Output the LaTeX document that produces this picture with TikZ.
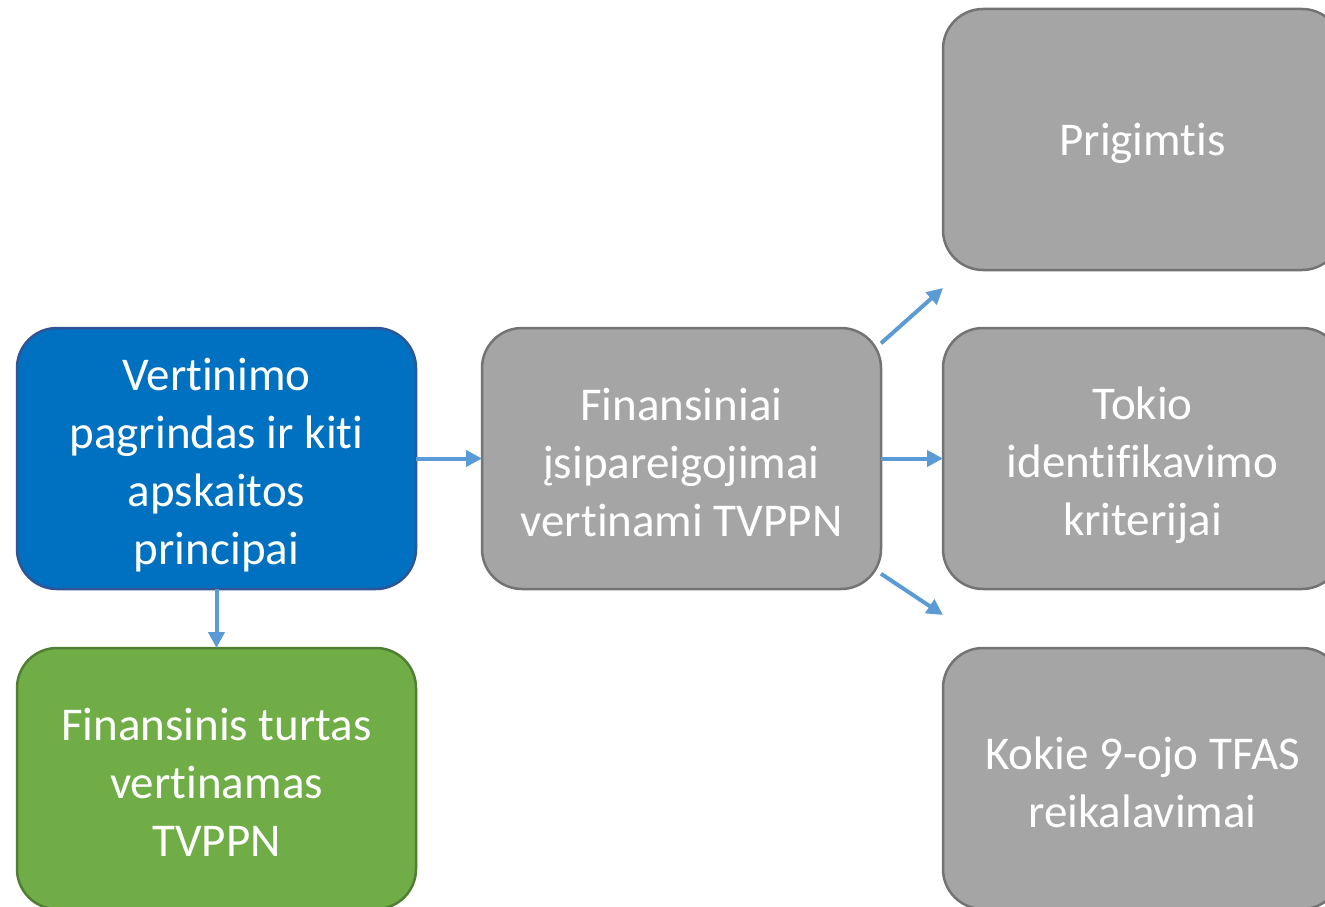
\documentclass[tikz,border=0pt]{standalone}
\usepackage{fontspec}
\setmainfont{Carlito}[Ligatures={NoCommon,NoContextual,NoRare},RawFeature={-liga;-clig;-dlig}]
\usetikzlibrary{arrows.meta,positioning}
\definecolor{greyfill}{HTML}{A5A5A5}
\definecolor{greyline}{HTML}{737373}
\definecolor{bluefill}{HTML}{0070C0}
\definecolor{blueline}{HTML}{2F5597}
\definecolor{greenfill}{HTML}{70AD47}
\definecolor{greenline}{HTML}{507E32}
\definecolor{arrowblue}{HTML}{5B9BD5}
\newcommand\cardlines[1]{\rule{0pt}{46pt}#1\rule[-6pt]{0pt}{6pt}}

\begin{document}
\begin{tikzpicture}[
  x=1pt,y=-1pt,
  >={Triangle[length=16pt,width=16pt]},
  font=\fontsize{47}{58}\selectfont,
  node distance=59pt and 66pt,
  card/.style={rectangle,rounded corners=40pt,line width=2.5pt,
    minimum width=399pt,minimum height=261pt,inner sep=0pt,outer sep=0pt,
    align=center,text=white},
  greycard/.style={card,draw=greyline,fill=greyfill},
  bluecard/.style={card,draw=blueline,fill=bluefill},
  greencard/.style={card,draw=greenline,fill=greenfill},
  line/.style={->,line width=4pt,draw=arrowblue}
]
  \useasboundingbox (0,0) rectangle (1325,907);
  \node[bluecard] (basis) at (216.5,458.5) {\cardlines{Vertinimo\\pagrindas ir kiti\\apskaitos\\principai}};
  \node[greencard,below=of basis] (assets) {\cardlines{Finansinis turtas\\vertinamas\\TVPPN}};
  \node[greycard,right=of basis] (liab) {\cardlines{Finansiniai\\įsipareigojimai\\vertinami TVPPN}};
  \node[greycard,right=62pt of liab] (criteria) {\cardlines{Tokio\\identifikavimo\\kriterijai}};
  \node[greycard,above=58pt of criteria,text height=44pt,text depth=12pt] (nature) {Prigimtis};
  \node[greycard,below=of criteria] (ifrs) {\cardlines{Kokie 9-ojo TFAS\\reikalavimai}};
  \coordinate (upend) at (943,288);
  \coordinate (downend) at (943,615);

  \draw[line] (basis)--(liab);
  \draw[line] (basis)--(assets);
  \draw[line] (liab)--(criteria);
  \draw[line] (liab.30)--(upend);
  \draw[line] (liab.-30)--(downend);
\end{tikzpicture}
\end{document}
